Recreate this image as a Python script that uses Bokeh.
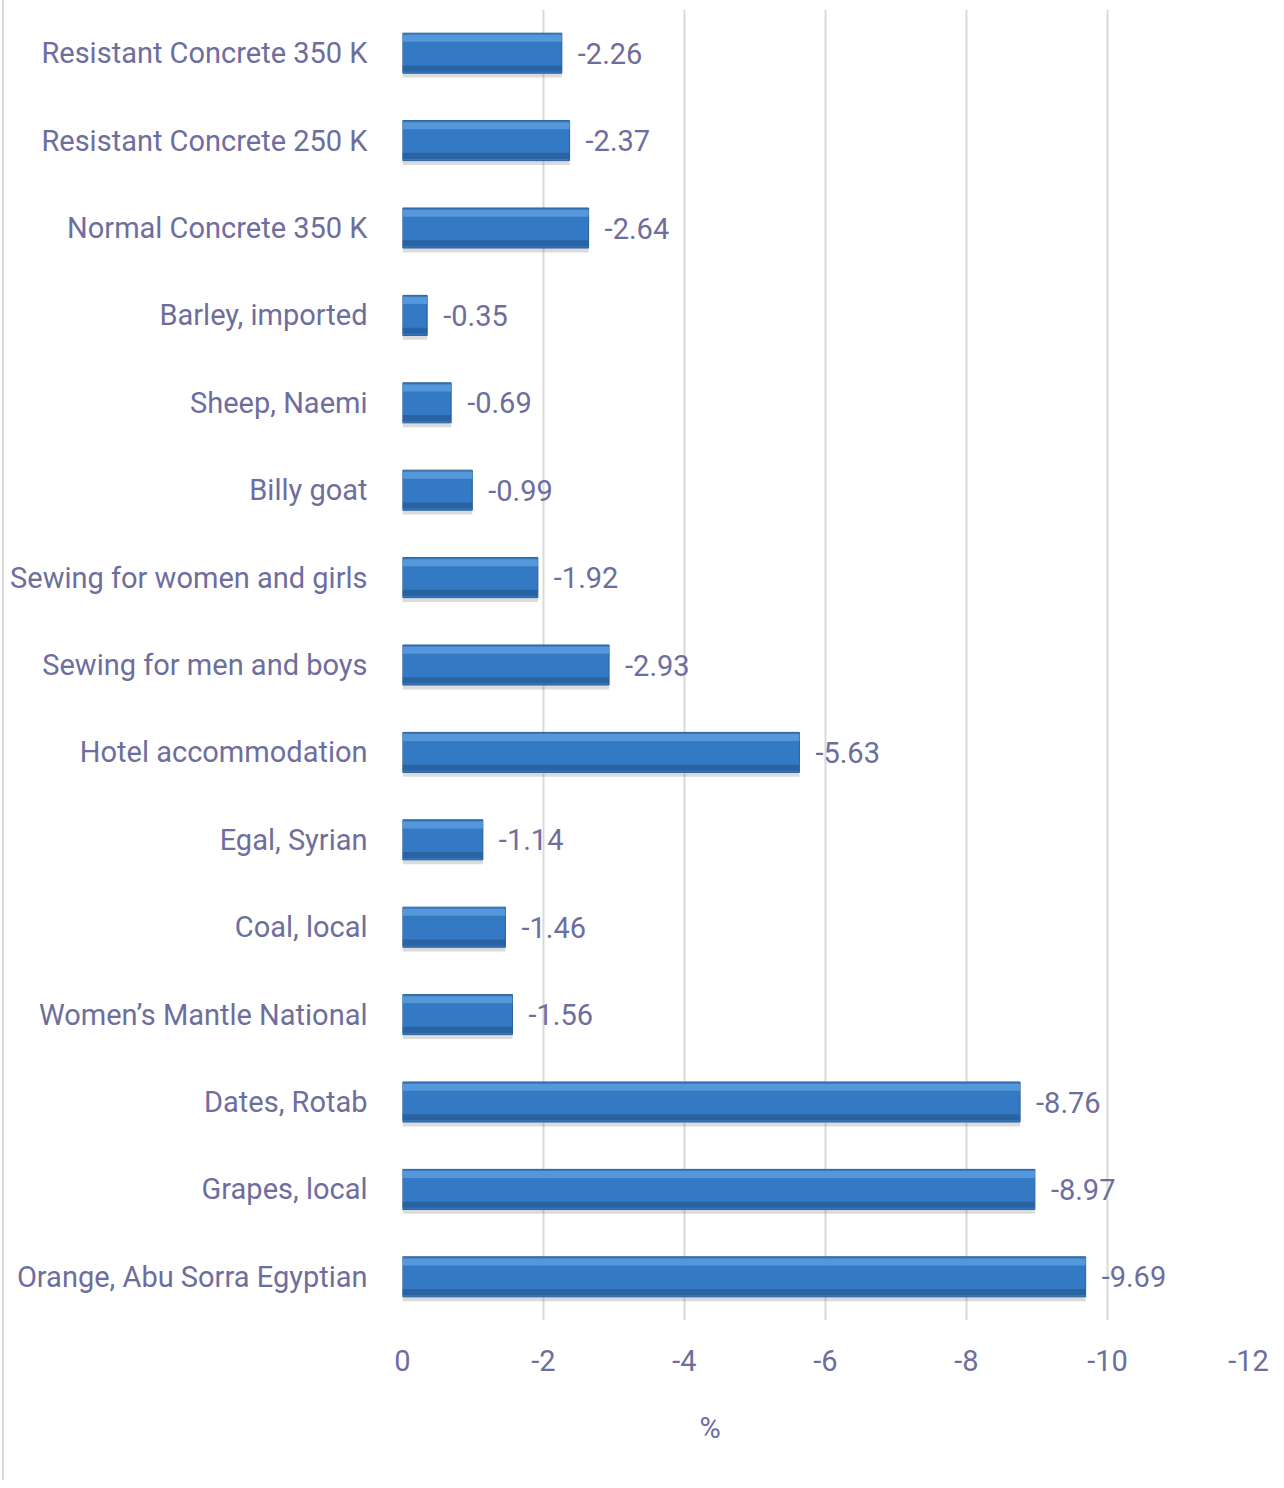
from bokeh.plotting import figure
from bokeh.models import FactorRange, Range1d, FixedTicker, ColumnDataSource, Title
from bokeh.transform import dodge
from bokeh.core.properties import value
from bokeh.embed import file_html
from bokeh.resources import INLINE

categories = [
    "Resistant Concrete 350 K",
    "Resistant Concrete 250 K",
    "Normal Concrete 350 K",
    "Barley, imported",
    "Sheep, Naemi",
    "Billy goat",
    "Sewing for women and girls",
    "Sewing for men and boys",
    "Hotel accommodation",
    "Egal, Syrian",
    "Coal, local",
    "Women\u2019s Mantle National",
    "Dates, Rotab",
    "Grapes, local",
    "Orange, Abu Sorra Egyptian",
]
values = [-2.26, -2.37, -2.64, -0.35, -0.69, -0.99, -1.92, -2.93, -5.63,
          -1.14, -1.46, -1.56, -8.76, -8.97, -9.69]
x_ticks = [0, -2, -4, -6, -8, -10, -12]
x_tick_labels = ["0", "-2", "-4", "-6", "-8", "-10", "-12"]
axis_title = "%"

FONT = "Roboto"
TXT = "#6E6E9E"
FS = "29px"

src = ColumnDataSource(dict(
    cat=categories, val=values, zero=[0] * len(values),
    lbl=["%g" % v for v in values],
))

p = figure(
    width=1276, height=1480,
    y_range=FactorRange(factors=categories[::-1]),
    x_range=Range1d(0, -12),
    output_backend="svg", toolbar_location=None,
    min_border_left=398, min_border_right=32,
    min_border_top=9, min_border_bottom=160,
)
p.outline_line_color = None
p.background_fill_color = "white"
p.styles = {"border-left": "2px solid #D9D9D9", "margin-left": "2px"}

BH = 0.458
# shadow
p.hbar(y=dodge("cat", -0.05, range=p.y_range), left="zero", right="val",
       height=BH, source=src, fill_color="#7F7F7F", fill_alpha=0.28,
       line_color=None)
# main bar
p.hbar(y="cat", left="zero", right="val", height=BH, source=src,
       fill_color="#3479C4", line_color="#2A5F99", line_width=1)
# top highlight
p.hbar(y=dodge("cat", 0.17, range=p.y_range), left="zero", right="val",
       height=0.08, source=src, fill_color="#5A9ADC", fill_alpha=0.9,
       line_color=None)
# bottom shade
p.hbar(y=dodge("cat", -0.175, range=p.y_range), left="zero", right="val",
       height=0.07, source=src, fill_color="#2A63A2", line_color=None)

p.text(x="val", y="cat", text="lbl", source=src, x_offset=16,
       text_align="left", text_baseline="middle",
       text_font=value(FONT), text_font_size=FS, text_color=TXT)

p.xaxis.ticker = FixedTicker(ticks=x_ticks)
p.xaxis.major_label_overrides = dict(zip(x_ticks, x_tick_labels))
p.xaxis.major_label_text_font = FONT
p.xaxis.major_label_text_font_size = FS
p.xaxis.major_label_text_color = TXT
p.xaxis.major_label_standoff = 23
p.xaxis.axis_line_color = None
p.xaxis.major_tick_line_color = None
p.xaxis.minor_tick_line_color = None

# axis title, placed like the original (left of the frame centre)
p.add_layout(Title(text=axis_title, align="left", offset=297, standoff=70,
                   text_font=FONT, text_font_size=FS, text_font_style="normal",
                   text_color=TXT), "below")

p.yaxis.major_label_text_font = FONT
p.yaxis.major_label_text_font_size = FS
p.yaxis.major_label_text_color = TXT
p.yaxis.major_label_standoff = 29
p.yaxis.axis_line_color = None
p.yaxis.major_tick_line_color = None
p.yaxis.minor_tick_line_color = None

p.ygrid.grid_line_color = None
p.xgrid.grid_line_color = "#D9D9D9"
p.xgrid.grid_line_width = 2

open("out.html", "w").write(file_html(p, INLINE))
